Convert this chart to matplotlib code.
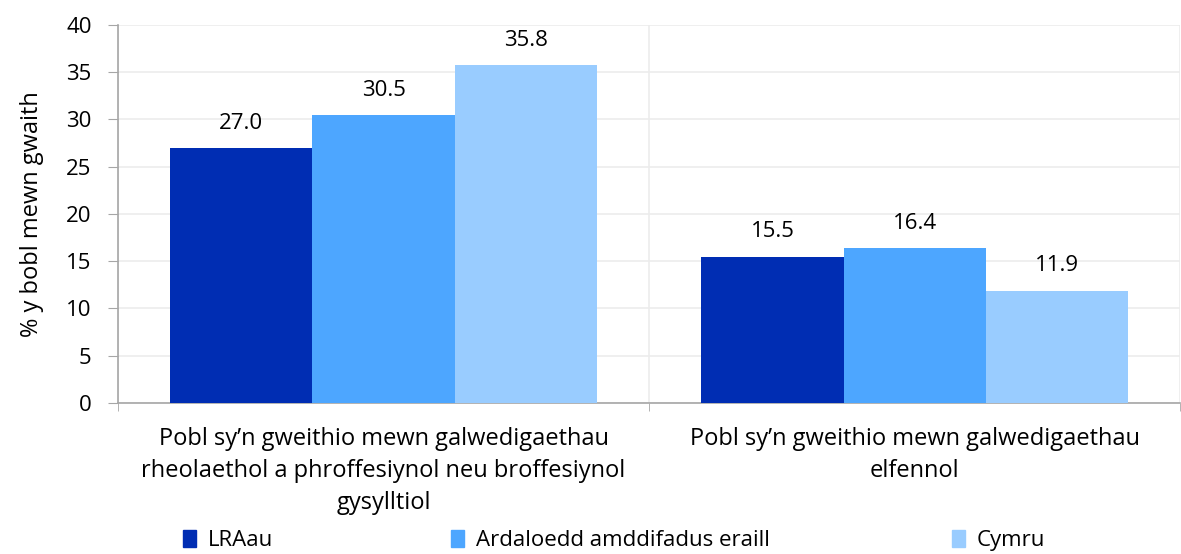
import matplotlib
matplotlib.use("Agg")
import matplotlib.pyplot as plt
from matplotlib.patches import Patch
import numpy as np

categories = [
    "Pobl sy\u2019n gweithio mewn galwedigaethau\nrheolaethol a phroffesiynol neu broffesiynol\ngysylltiol",
    "Pobl sy\u2019n gweithio mewn galwedigaethau\nelfennol",
]
series_names = ["LRAau", "Ardaloedd amddifadus eraill", "Cymru"]
lraau = [27.0, 15.5]
ardaloedd = [30.5, 16.4]
cymru = [35.8, 11.9]
colors = ["#002DB3", "#4DA6FF", "#99CCFF"]

plt.rcParams["font.family"] = ["Open Sans", "DejaVu Sans"]

fig = plt.figure(figsize=(11.81, 5.54), dpi=100)
ax = fig.add_axes([0.0999, 0.2726, 0.8996, 0.6823])

x = np.arange(len(categories))
w = 0.268
for i, (vals, col) in enumerate(zip([lraau, ardaloedd, cymru], colors)):
    pos = x + (i - 1) * w
    ax.bar(pos, vals, width=w, color=col, zorder=3)
    for p, v in zip(pos, vals):
        ax.text(p, v + 1.5, f"{v:.1f}", ha="center", va="bottom", fontsize=16)

ax.set_xlim(-0.5, 1.5)
ax.set_ylim(0, 40)
ax.set_yticks(range(0, 41, 5))
ax.tick_params(axis="y", labelsize=16, length=7, color="#a6a6a6", pad=12)
ax.set_xticks(x)
ax.set_xticklabels(categories, fontsize=17, linespacing=1.45)
ax.tick_params(axis="x", length=0, pad=17)
ax.set_xticks([-0.5, 0.5, 1.5], minor=True)
ax.tick_params(axis="x", which="minor", length=6, color="#a6a6a6")
ax.grid(axis="y", color="#ececec", lw=1.2, zorder=0)
ax.grid(axis="x", which="minor", color="#ececec", lw=1.2, zorder=0)
for s in ["top", "right"]:
    ax.spines[s].set_visible(False)
for s in ["left", "bottom"]:
    ax.spines[s].set_color("#a6a6a6")
    ax.spines[s].set_linewidth(1.2)
ax.set_ylabel("% y bobl mewn gwaith", fontsize=17)
ax.yaxis.set_label_coords(-0.07, 0.5)

legend_x = [0.155, 0.382, 0.806]
for name, col, lx in zip(series_names, colors, legend_x):
    fig.legend(handles=[Patch(color=col)], labels=[name], loc="center left",
               bbox_to_anchor=(lx, 0.024), frameon=False, fontsize=16,
               handlelength=0.6, handleheight=0.8, handletextpad=0.5,
               borderaxespad=0, borderpad=0)

fig.savefig("out.png", dpi=100)
